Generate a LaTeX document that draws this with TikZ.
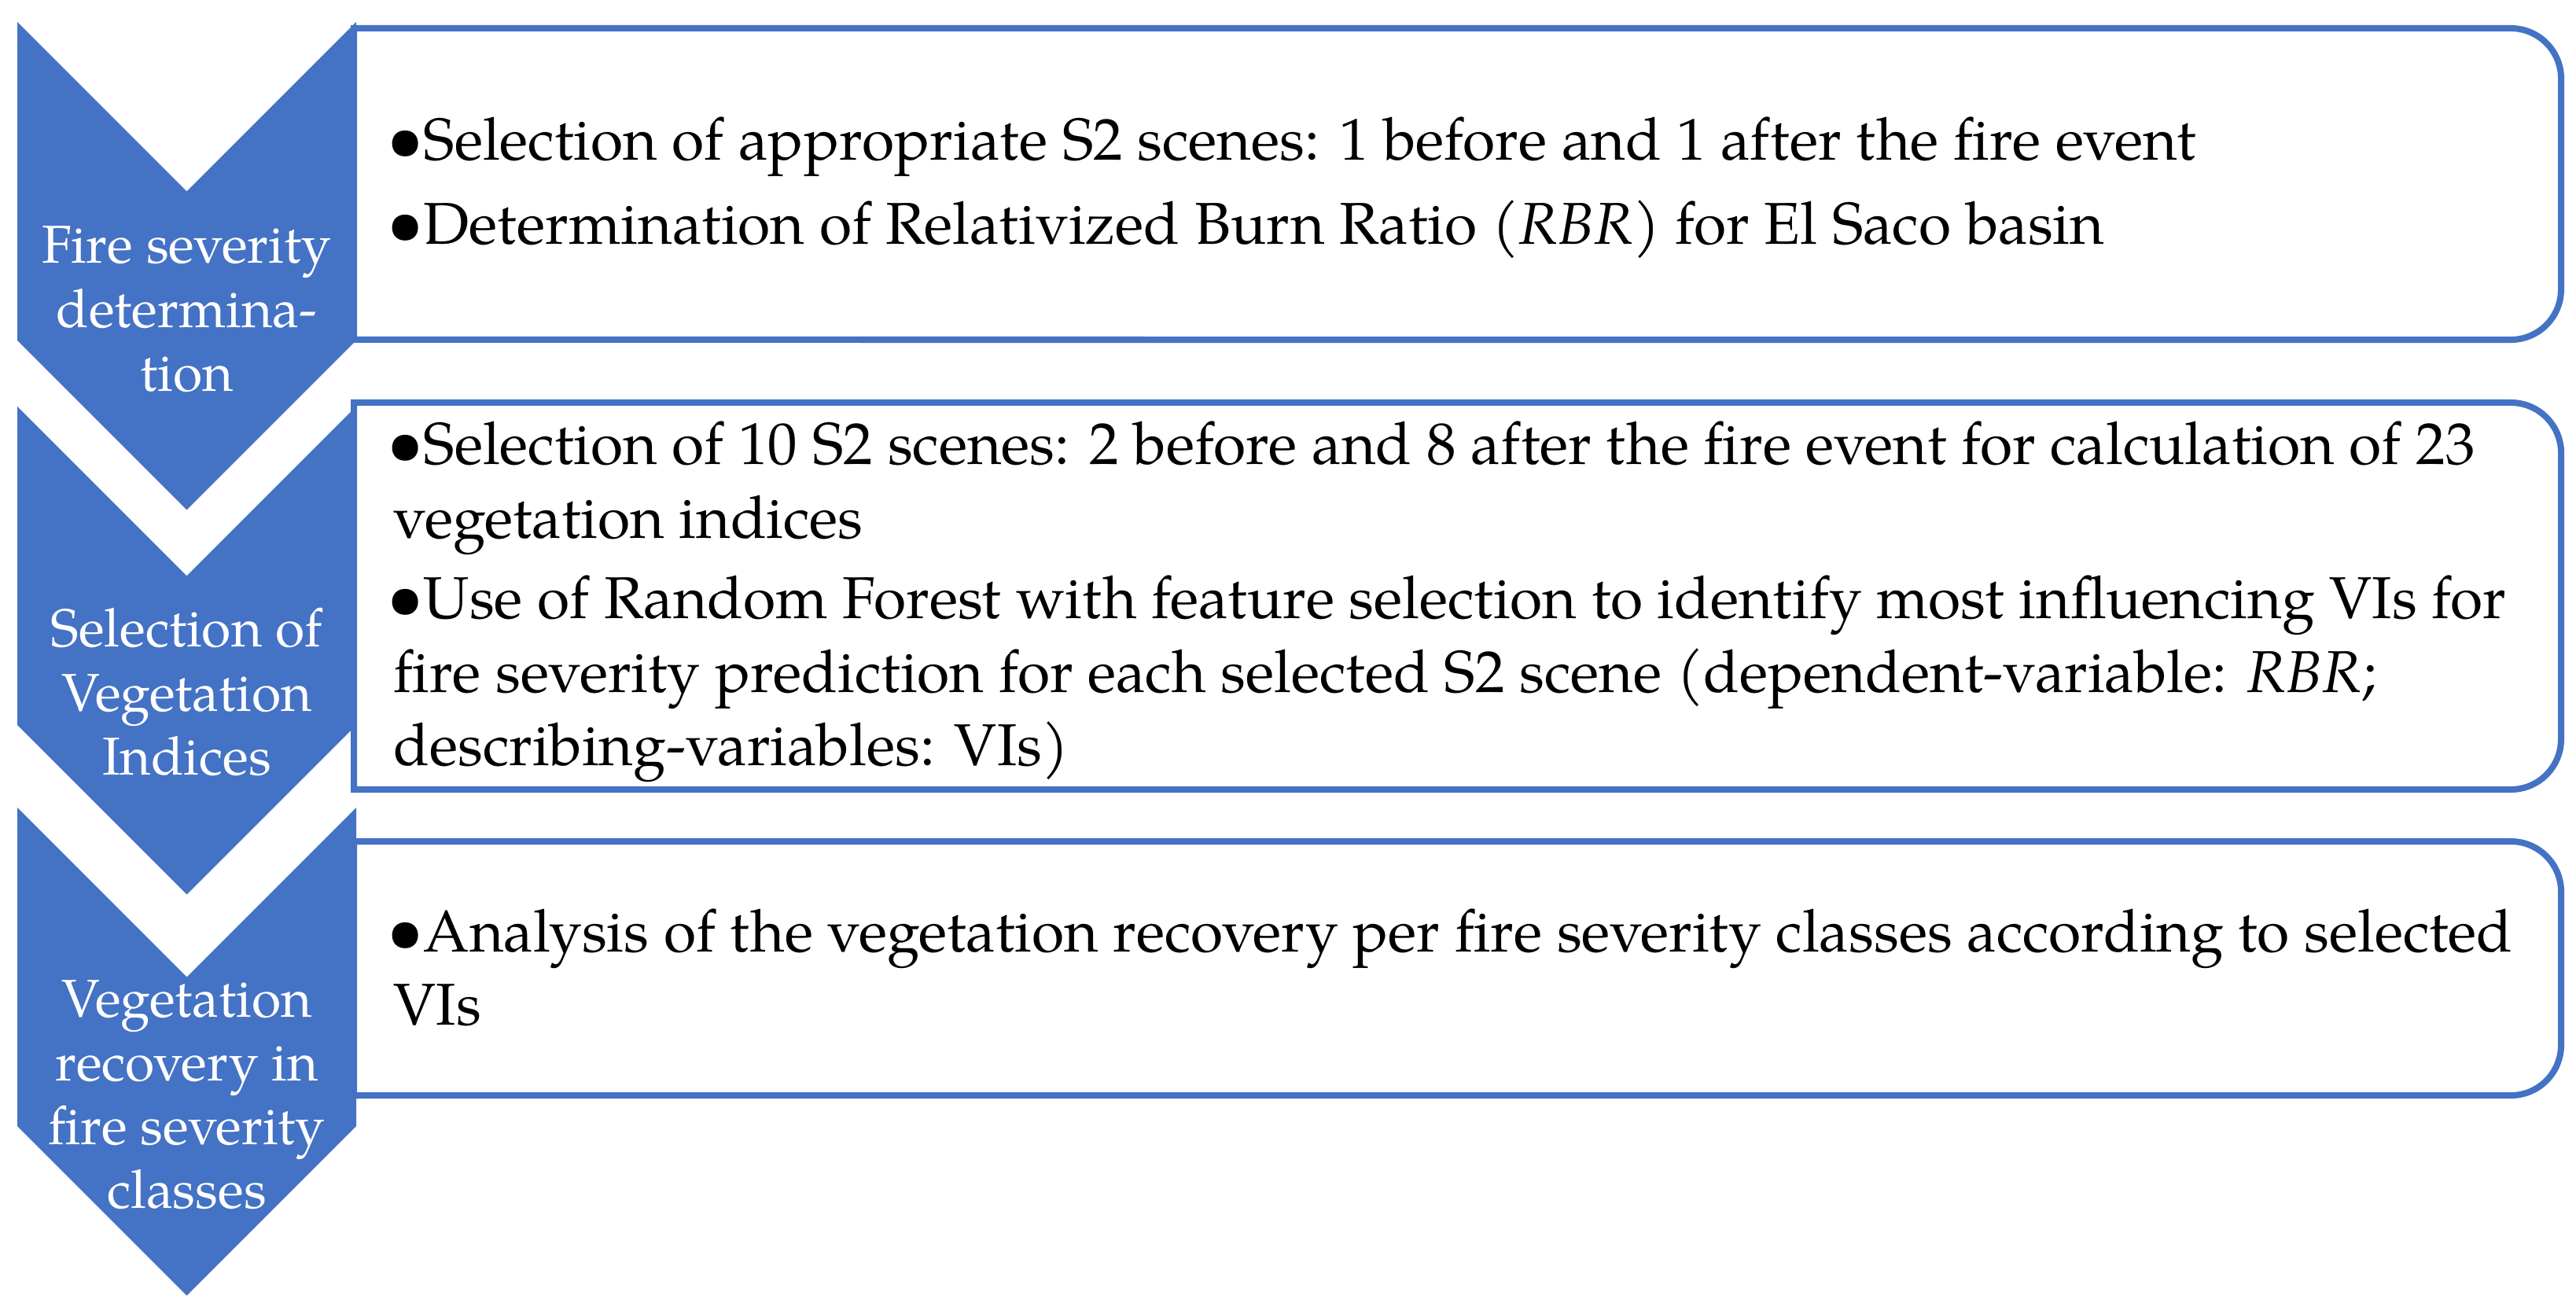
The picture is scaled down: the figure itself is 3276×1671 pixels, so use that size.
\documentclass[tikz,border=0pt]{standalone}
\usepackage{fontspec}
\setmainfont{TeX Gyre Pagella}
\definecolor{officeblue}{HTML}{4472C4}
\tikzset{
  chev/.style={fill=officeblue, draw=none},
  boxline/.style={draw=officeblue, line width=0.08cm, fill=white},
  chevtext/.style={text=white, inner sep=0pt, anchor=base, font=\fontsize{19.3pt}{23.05pt}\selectfont},
  itemtext/.style={inner sep=0pt, anchor=base west, font=\fontsize{21.35pt}{26.46pt}\selectfont},
}
\newcommand{\bulletitem}[1]{\parbox[t]{28cm}{\raggedright\hangindent=0.38cm\hangafter=1\makebox[0.38cm][l]{\makebox[0.29cm][c]{\scalebox{1.1}{\textbullet}}}#1}}
\newcommand{\chevlines}[1]{\parbox[t]{4.3cm}{\centering #1}}
\begin{document}
\begin{tikzpicture}[x=0.01cm, y=-0.01cm]
\useasboundingbox (0,0) rectangle (3276,1671);
% boxes
\draw[boxline] (450,36) -- (3193,36) arc[start angle=90,end angle=0,radius=0.64cm] -- (3257,368) arc[start angle=0,end angle=-90,radius=0.64cm] -- (450,432) -- cycle;
\draw[boxline] (450,512) -- (3193,512) arc[start angle=90,end angle=0,radius=0.64cm] -- (3257,940) arc[start angle=0,end angle=-90,radius=0.64cm] -- (450,1004) -- cycle;
\draw[boxline] (450,1070) -- (3193,1070) arc[start angle=90,end angle=0,radius=0.64cm] -- (3257,1329) arc[start angle=0,end angle=-90,radius=0.64cm] -- (450,1393) -- cycle;
% chevrons
\fill[chev] (22,28) -- (237.5,243.5) -- (453,28) -- (453,433) -- (237.5,648.5) -- (22,433) -- cycle;
\fill[chev] (22,517) -- (237.5,732.5) -- (453,517) -- (453,922) -- (237.5,1137.5) -- (22,922) -- cycle;
\fill[chev] (22,1027) -- (237.5,1242.5) -- (453,1027) -- (453,1432) -- (237.5,1647.5) -- (22,1432) -- cycle;
% chevron labels
\node[chevtext] (c1) at (237.5,335) {\chevlines{Fire severity\\determina-\\tion}};
\node[chevtext] (c2) at (237.5,823) {\chevlines{Selection of\\Vegetation\\Indices}};
\node[chevtext] (c3) at (237.5,1293) {\chevlines{Vegetation\\recovery in\\fire severity\\classes}};
% box texts
\node[itemtext] (b1a) at (500,204) {\bulletitem{Selection of appropriate S2 scenes: 1 before and 1 after the fire event}};
\node[itemtext] (b1b) at (500,311) {\bulletitem{Determination of Relativized Burn Ratio (\textit{RBR}) for El Saco basin}};
\node[itemtext] (b2a) at (500,591) {\bulletitem{Selection of 10 S2 scenes: 2 before and 8 after the fire event for calculation of 23\\vegetation indices}};
\node[itemtext] (b2b) at (500,787) {\bulletitem{Use of Random Forest with feature selection to identify most influencing VIs for\\fire severity prediction for each selected S2 scene (dependent-variable: \textit{RBR};\\describing-variables: VIs)}};
\node[itemtext] (b3a) at (500,1210) {\bulletitem{Analysis of the vegetation recovery per fire severity classes according to selected\\VIs}};
\end{tikzpicture}
\end{document}
